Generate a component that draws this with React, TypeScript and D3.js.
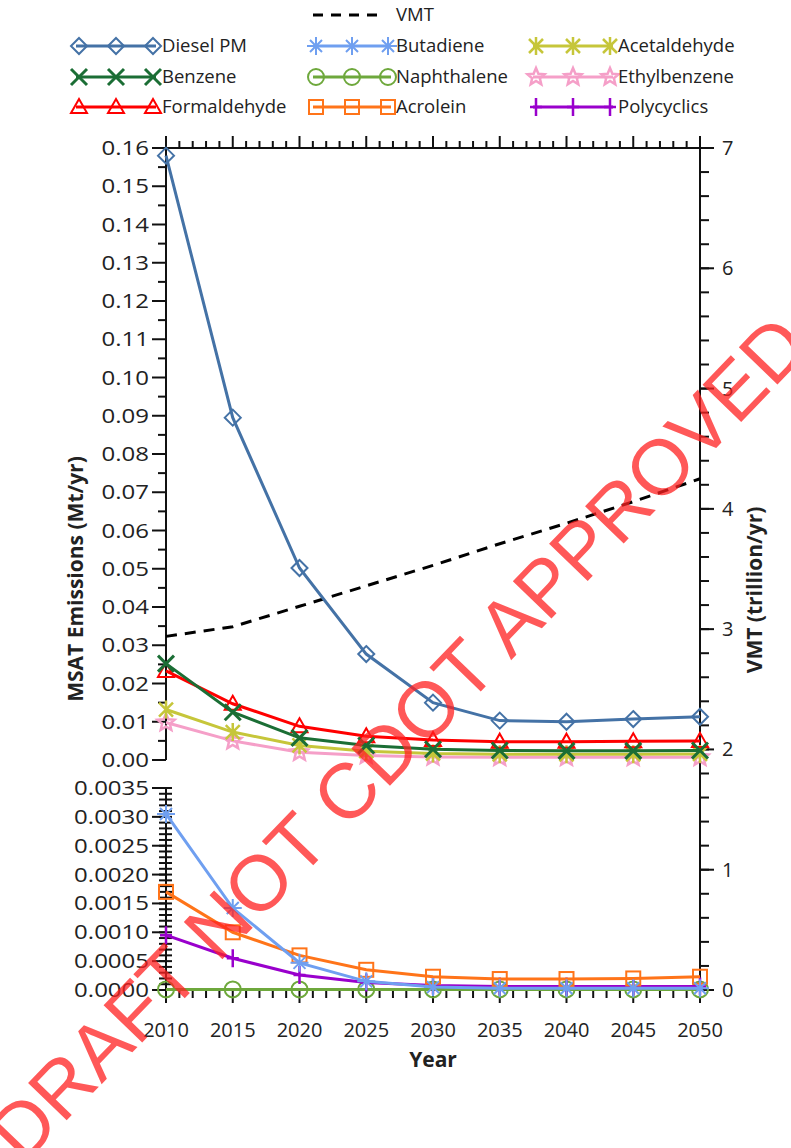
import React from 'react';
import * as d3 from 'd3';

// MSAT emissions vs VMT chart (two stacked panels sharing the x axis)

const years = [2010, 2015, 2020, 2025, 2030, 2035, 2040, 2045, 2050];

// upper panel (Mt/yr)
const dieselPM = [0.158, 0.0895, 0.0502, 0.0277, 0.0150, 0.0103, 0.0100, 0.0107, 0.0113];
const benzene = [0.0252, 0.0125, 0.0058, 0.0038, 0.0028, 0.0025, 0.0024, 0.0024, 0.0025];
const formaldehyde = [0.0233, 0.0147, 0.0088, 0.0062, 0.0052, 0.0048, 0.0048, 0.0049, 0.0050];
const acetaldehyde = [0.0132, 0.0073, 0.0038, 0.0023, 0.0017, 0.0015, 0.0015, 0.0015, 0.0016];
const ethylbenzene = [0.0098, 0.0050, 0.0020, 0.0012, 0.0008, 0.0007, 0.0007, 0.0007, 0.0007];

// lower panel (Mt/yr)
const butadiene = [0.00305, 0.00142, 0.00047, 0.00015, 0.00005, 0.00003, 0.00003, 0.00003, 0.00003];
const naphthalene = [0.00001, 0.00001, 0.00001, 0.00001, 0.00001, 0.00001, 0.00001, 0.00001, 0.00001];
const acrolein = [0.0017, 0.0010, 0.0006, 0.00035, 0.00023, 0.00019, 0.00019, 0.0002, 0.00023];
const polycyclics = [0.00095, 0.00055, 0.00026, 0.00013, 0.00008, 0.00006, 0.00006, 0.00006, 0.00006];

// VMT (trillion/yr), right axis
const vmt = [2.94, 3.02, 3.19, 3.36, 3.53, 3.71, 3.88, 4.06, 4.25];

const topTicks = [0, 0.01, 0.02, 0.03, 0.04, 0.05, 0.06, 0.07, 0.08, 0.09, 0.1, 0.11, 0.12, 0.13, 0.14, 0.15, 0.16];
const bottomTicks = [0, 0.0005, 0.001, 0.0015, 0.002, 0.0025, 0.003, 0.0035];
const rightTicks = [0, 1, 2, 3, 4, 5, 6, 7];

type Marker = 'diamond' | 'x' | 'triangle' | 'ast8' | 'circle' | 'square' | 'ast6' | 'star' | 'plus';

interface Series {
  name: string;
  values: number[];
  color: string;
  marker: Marker;
  panel: 'top' | 'bottom';
}

const series: Series[] = [
  { name: 'Diesel PM', values: dieselPM, color: '#4472a6', marker: 'diamond', panel: 'top' },
  { name: 'Butadiene', values: butadiene, color: '#6f9ff0', marker: 'ast8', panel: 'bottom' },
  { name: 'Acetaldehyde', values: acetaldehyde, color: '#c6c63a', marker: 'ast6', panel: 'top' },
  { name: 'Benzene', values: benzene, color: '#1b6e35', marker: 'x', panel: 'top' },
  { name: 'Naphthalene', values: naphthalene, color: '#6ea83c', marker: 'circle', panel: 'bottom' },
  { name: 'Ethylbenzene', values: ethylbenzene, color: '#f59fc8', marker: 'star', panel: 'top' },
  { name: 'Formaldehyde', values: formaldehyde, color: '#ff0000', marker: 'triangle', panel: 'top' },
  { name: 'Acrolein', values: acrolein, color: '#ff7419', marker: 'square', panel: 'bottom' },
  { name: 'Polycyclics', values: polycyclics, color: '#9900cc', marker: 'plus', panel: 'bottom' },
];

// draw order (last on top)
const drawOrder = ['Ethylbenzene', 'Acetaldehyde', 'Formaldehyde', 'Benzene', 'Diesel PM',
  'Naphthalene', 'Polycyclics', 'Acrolein', 'Butadiene'];

const FONT = '"Open Sans", sans-serif';

function starPath(r: number) {
  const pts: string[] = [];
  for (let i = 0; i < 10; i++) {
    const rr = i % 2 === 0 ? r : r * 0.45;
    const a = -Math.PI / 2 + (i * Math.PI) / 5;
    pts.push(`${(rr * Math.cos(a)).toFixed(2)},${(rr * Math.sin(a)).toFixed(2)}`);
  }
  return `M${pts.join('L')}Z`;
}

function MarkerShape({ type, color, x, y }: { type: Marker; color: string; x: number; y: number }) {
  const common = { stroke: color, fill: 'none' };
  const t = `translate(${x},${y})`;
  switch (type) {
    case 'diamond':
      return <path transform={t} d="M0,-8L8,0L0,8L-8,0Z" {...common} strokeWidth={2} />;
    case 'x':
      return <path transform={t} d="M-8,-8L8,8M-8,8L8,-8" {...common} strokeWidth={3} />;
    case 'triangle':
      return <path transform={t} d="M0,-8L8,6L-8,6Z" {...common} strokeWidth={2} />;
    case 'ast8':
      return <path transform={t} d="M-6,-6L6,6M-6,6L6,-6M0,-9L0,9M-9,0L9,0" {...common} strokeWidth={2} />;
    case 'circle':
      return <circle cx={x} cy={y} r={8} {...common} strokeWidth={2} />;
    case 'square':
      return <rect x={x - 7} y={y - 7} width={14} height={14} {...common} strokeWidth={2} />;
    case 'ast6':
      return <path transform={t} d="M-7,-7L7,7M-7,7L7,-7M0,-9L0,9" {...common} strokeWidth={2.5} />;
    case 'star':
      return <path transform={t} d={starPath(9)} {...common} strokeWidth={2.5} />;
    case 'plus':
      return <path transform={t} d="M0,-9L0,9M-6,0L6,0" {...common} strokeWidth={2.5} />;
  }
  return null;
}

export default function App() {
  const W = 791;
  const H = 1148;
  const left = 166;
  const right = 700;
  const topY = 148;
  const topZero = 760;
  const botTop = 788;
  const botZero = 990;

  const x = d3.scaleLinear().domain([2010, 2050]).range([left, right]);
  const yTop = d3.scaleLinear().domain([0, 0.16]).range([topZero, topY]);
  const yBot = d3.scaleLinear().domain([0, 0.0035]).range([botZero, botTop]);
  const yR = d3.scaleLinear().domain([0, 7]).range([botZero, topY]);

  const minorYears = d3.range(2010, 2051, 1);
  const topMinor = d3.range(0.005, 0.16, 0.01);
  const botMinor = d3.range(0, 0.00351, 0.0001);
  const rightMinor = d3.range(0, 7.001, 0.2);

  const lineFor = (s: Series) => {
    const ys = s.panel === 'top' ? yTop : yBot;
    return d3.line<number>()
      .x((_, i) => x(years[i]))
      .y((d) => ys(d))(s.values) || '';
  };
  const vmtLine = d3.line<number>().x((_, i) => x(years[i])).y((d) => yR(d))(vmt) || '';

  const legendCols = [
    { x0: 76, x1: 156, tx: 162 },
    { x0: 313, x1: 391, tx: 396 },
    { x0: 533, x1: 613, tx: 618 },
  ];
  const legendRows = [46, 77, 107];

  const ordered = drawOrder.map((n) => series.find((s) => s.name === n)!);

  return (
    <svg width={W} height={H} style={{ position: 'absolute', left: 0, top: 0, background: '#fff' }}
      fontFamily={FONT}>
      <rect width={W} height={H} fill="#fff" />

      {/* legend */}
      <g>
        <line x1={313} x2={380} y1={15} y2={15} stroke="#000" strokeWidth={3} strokeDasharray="10,8" />
        <text x={396} y={15} dy="0.35em" fontSize={18.5} fill="#222">VMT</text>
        {series.map((s, i) => {
          const c = legendCols[i % 3];
          const yy = legendRows[Math.floor(i / 3)];
          const mid = (c.x0 + c.x1) / 2;
          return (
            <g key={s.name}>
              <line x1={c.x0} x2={c.x1} y1={yy} y2={yy} stroke={s.color} strokeWidth={3} />
              {[c.x0 + 3, mid, c.x1 - 3].map((mx, k) => (
                <MarkerShape key={k} type={s.marker} color={s.color} x={mx} y={yy} />
              ))}
              <text x={c.tx} y={yy} dy="0.35em" fontSize={18.5} fill="#222">{s.name}</text>
            </g>
          );
        })}
      </g>

      {/* axes */}
      <g stroke="#111" strokeWidth={2}>
        {/* top edge with upward ticks */}
        <line x1={left} x2={right + 14} y1={topY} y2={topY} />
        {minorYears.map((yr) => (
          <line key={`tt${yr}`} x1={x(yr)} x2={x(yr)} y1={topY} y2={topY - (yr % 5 === 0 ? 12 : 7)} />
        ))}
        {/* left axis upper */}
        <line x1={left} x2={left} y1={topY} y2={topZero} />
        {topTicks.map((t) => (
          <line key={`lt${t}`} x1={left - 14} x2={left} y1={yTop(t)} y2={yTop(t)} />
        ))}
        {topMinor.map((t) => (
          <line key={`lm${t}`} x1={left - 8} x2={left} y1={yTop(t)} y2={yTop(t)} />
        ))}
        {/* left axis lower */}
        <line x1={left} x2={left} y1={botTop} y2={botZero} />
        {botMinor.map((t, i) => (
          <line key={`bm${i}`} x1={left - 7} x2={left + 6} y1={yBot(t)} y2={yBot(t)} />
        ))}
        {bottomTicks.map((t) => (
          <line key={`bt${t}`} x1={left - 14} x2={left} y1={yBot(t)} y2={yBot(t)} />
        ))}
        {/* bottom axis */}
        <line x1={left} x2={right} y1={botZero} y2={botZero} />
        {minorYears.map((yr) => (
          <line key={`bx${yr}`} x1={x(yr)} x2={x(yr)} y1={botZero} y2={botZero + (yr % 5 === 0 ? 13 : 8)} />
        ))}
        {/* right axis */}
        <line x1={right} x2={right} y1={topY} y2={botZero} />
        {rightMinor.map((t, i) => (
          <line key={`rm${i}`} x1={right} x2={right + 9} y1={yR(t)} y2={yR(t)} />
        ))}
        {rightTicks.map((t) => (
          <line key={`rt${t}`} x1={right} x2={right + 14} y1={yR(t)} y2={yR(t)} />
        ))}
      </g>

      {/* tick labels */}
      <g fontSize={20} fill="#222">
        {topTicks.map((t) => (
          <text key={`tl${t}`} transform={`translate(149,${yTop(t)}) scale(1.2,1)`} dy="0.35em" textAnchor="end">
            {d3.format('.2f')(t)}
          </text>
        ))}
        {bottomTicks.map((t) => (
          <text key={`bl${t}`} transform={`translate(149,${yBot(t)}) scale(1.2,1)`} dy="0.35em" textAnchor="end">
            {d3.format('.4f')(t)}
          </text>
        ))}
        {rightTicks.map((t) => (
          <text key={`rl${t}`} x={722} y={yR(t)} dy="0.35em">{t}</text>
        ))}
        {years.map((yr) => (
          <text key={`xl${yr}`} x={x(yr)} y={1030} dy="0.35em" textAnchor="middle">{yr}</text>
        ))}
      </g>

      {/* titles */}
      <g fontWeight="bold" fontSize={21} fill="#222">
        <text transform="translate(83,579) rotate(-90)" textAnchor="middle">MSAT Emissions (Mt/yr)</text>
        <text transform="translate(762,590) rotate(-90)" textAnchor="middle">VMT (trillion/yr)</text>
        <text x={433} y={1060} dy="0.35em" textAnchor="middle">Year</text>
      </g>

      {/* series */}
      <path d={vmtLine} fill="none" stroke="#000" strokeWidth={3} strokeDasharray="11,8" />
      {ordered.map((s) => {
        const ys = s.panel === 'top' ? yTop : yBot;
        return (
          <g key={s.name}>
            <path d={lineFor(s)} fill="none" stroke={s.color} strokeWidth={3} />
            {s.values.map((v, i) => (
              <MarkerShape key={i} type={s.marker} color={s.color} x={x(years[i])} y={ys(v)} />
            ))}
          </g>
        );
      })}

      {/* watermark */}
      <text transform="translate(398,738) rotate(-46)" textAnchor="middle" dy="0.35em"
        fontFamily='"Liberation Sans", Arial, sans-serif' fontSize={78} fill="#ff2020" fillOpacity={0.75}>
        DRAFT NOT CDOT APPROVED
      </text>
    </svg>
  );
}
